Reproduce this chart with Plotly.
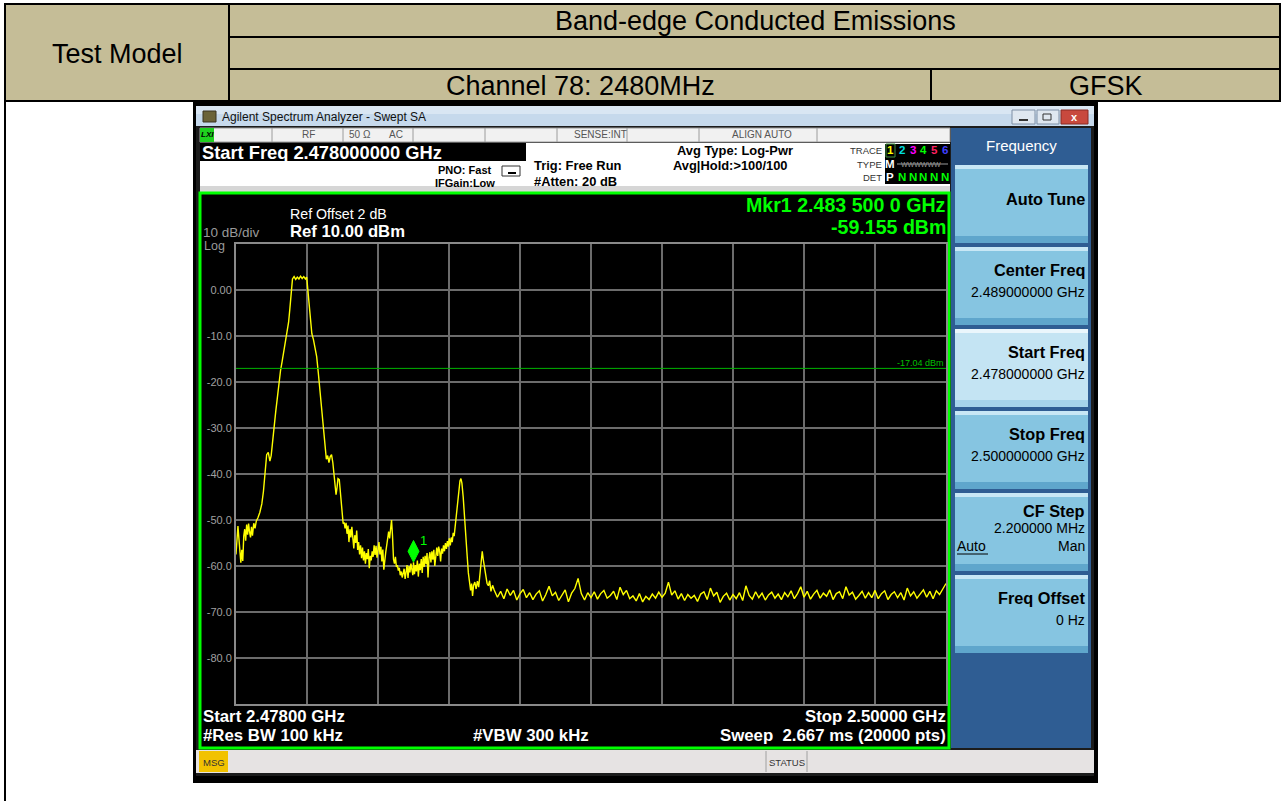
import plotly.graph_objects as go

W, H = 1282, 801
FONT = "Liberation Sans, Arial, sans-serif"

# ---------------- data ----------------
FREQ_START_MHZ = 2478.0
FREQ_STOP_MHZ = 2500.0
GRID_STEP_MHZ = 2.2
Y_TOP_DBM = 10.0
Y_BOTTOM_DBM = -90.0
Y_GRID_VALUES = [10, 0, -10, -20, -30, -40, -50, -60, -70, -80, -90]
Y_GRID_LABELS = ["", "0.00", "-10.0", "-20.0", "-30.0", "-40.0", "-50.0", "-60.0", "-70.0", "-80.0", ""]
LIMIT_DBM = -17.04
MKR_FREQ_MHZ = 2483.5
MKR_LEVEL_DBM = -59.155

# carrier (channel 78) region
CARRIER_FREQ_MHZ = [
    2478.00, 2478.03, 2478.06, 2478.09, 2478.12, 2478.15, 2478.18, 2478.21, 2478.24, 2478.27,
    2478.30, 2478.33, 2478.36, 2478.39, 2478.42, 2478.45, 2478.48, 2478.51, 2478.55, 2478.59,
    2478.63, 2478.68, 2478.74, 2478.80, 2478.85, 2478.90, 2478.95, 2479.00, 2479.05, 2479.09,
    2479.13, 2479.18, 2479.23, 2479.28, 2479.33, 2479.38, 2479.43, 2479.48, 2479.53, 2479.58,
    2479.63, 2479.67, 2479.71, 2479.75, 2479.80, 2479.85, 2479.90, 2479.95, 2480.00, 2480.05,
    2480.10, 2480.15, 2480.19, 2480.22, 2480.26, 2480.30, 2480.35, 2480.40, 2480.45, 2480.50,
    2480.55, 2480.60, 2480.65, 2480.70, 2480.75, 2480.80, 2480.84, 2480.88, 2480.92, 2480.96,
    2481.00, 2481.05, 2481.10, 2481.13, 2481.16, 2481.20, 2481.24, 2481.28, 2481.32]
CARRIER_LEVEL_DBM = [
    -57.5, -55.0, -51.3, -54.0, -57.8, -59.3, -56.5, -58.9, -53.5, -52.0,
    -54.5, -51.0, -53.2, -50.8, -52.6, -53.8, -51.5, -53.4, -50.7, -51.8,
    -50.2, -49.5, -48.3, -46.5, -43.8, -40.0, -35.8, -35.3, -37.2, -36.0,
    -33.0, -30.0, -26.5, -23.5, -20.0, -17.5, -15.5, -13.5, -11.8, -9.5,
    -7.0, -4.0, -1.0, 2.4, 2.9, 2.3, 2.8, 2.4, 3.0, 2.5,
    2.9, 2.4, 2.8, 0.2, -3.5, -6.5, -9.5, -10.8, -12.5, -14.5,
    -18.0, -22.0, -25.5, -29.0, -33.0, -36.8, -36.0, -37.5, -36.2, -35.8,
    -37.5, -40.5, -44.5, -43.0, -41.0, -41.2, -44.0, -47.0, -50.8]

# band-edge region
EDGE_FREQ_MHZ = [
    2481.35, 2481.38, 2481.41, 2481.44, 2481.47, 2481.50, 2481.53, 2481.56, 2481.59, 2481.62,
    2481.65, 2481.68, 2481.71, 2481.74, 2481.77, 2481.80, 2481.83, 2481.86, 2481.89, 2481.92,
    2481.95, 2481.98, 2482.01, 2482.04, 2482.07, 2482.10, 2482.13, 2482.16, 2482.19, 2482.22,
    2482.25, 2482.28, 2482.31, 2482.34, 2482.37, 2482.40, 2482.43, 2482.46, 2482.49, 2482.52,
    2482.55, 2482.58, 2482.61, 2482.64, 2482.67, 2482.70, 2482.73, 2482.76, 2482.79, 2482.82,
    2482.85, 2482.88, 2482.91, 2482.94, 2482.97, 2483.00, 2483.03, 2483.06, 2483.09, 2483.12,
    2483.15, 2483.18, 2483.21, 2483.24, 2483.27, 2483.30, 2483.33, 2483.36, 2483.39, 2483.42,
    2483.45, 2483.48, 2483.50, 2483.53, 2483.56, 2483.59, 2483.62, 2483.65, 2483.68, 2483.71,
    2483.74, 2483.77, 2483.80, 2483.83, 2483.86, 2483.89, 2483.92, 2483.95, 2483.98, 2484.01,
    2484.04, 2484.07, 2484.10, 2484.13, 2484.16, 2484.19, 2484.22, 2484.25, 2484.28, 2484.31,
    2484.34, 2484.37, 2484.40, 2484.43, 2484.46, 2484.49, 2484.52, 2484.55, 2484.58, 2484.61,
    2484.64, 2484.67, 2484.70, 2484.73, 2484.76, 2484.79, 2484.82, 2484.86, 2484.90, 2484.94,
    2484.97, 2485.00, 2485.04, 2485.08, 2485.12, 2485.16, 2485.20, 2485.24, 2485.27, 2485.30,
    2485.33, 2485.36, 2485.40, 2485.44, 2485.48, 2485.52, 2485.56, 2485.60, 2485.63, 2485.66,
    2485.70, 2485.74, 2485.78, 2485.82, 2485.86, 2485.90, 2485.95]
EDGE_LEVEL_DBM = [
    -50.5, -51.8, -50.6, -53.0, -51.2, -54.8, -52.0, -53.8, -51.5, -54.5,
    -56.2, -53.3, -55.0, -52.3, -56.5, -54.8, -57.5, -55.5, -58.3, -56.0,
    -58.8, -56.8, -59.5, -57.2, -58.5, -56.3, -60.5, -57.8, -58.8, -56.8,
    -58.0, -55.5, -57.6, -55.6, -58.2, -56.5, -54.8, -57.5, -55.8, -59.0,
    -56.4, -60.8, -58.0, -57.0, -55.5, -53.8, -52.5, -54.0, -51.2, -50.0,
    -53.5, -58.5, -59.5, -58.0, -60.2, -59.8, -61.0, -60.4, -62.0, -61.2,
    -62.5, -61.5, -60.6, -62.8, -61.0, -59.8, -62.6, -60.0, -61.4, -59.5,
    -60.8, -62.0, -59.2, -61.8, -59.8, -61.2, -58.8, -62.3, -59.5, -60.9,
    -58.5, -61.5, -58.0, -60.2, -57.8, -59.6, -57.2, -62.5, -58.3, -57.0,
    -59.2, -56.8, -58.6, -56.5, -60.0, -57.0, -56.0, -57.8, -55.8, -56.8,
    -59.0, -56.2, -57.3, -55.5, -56.8, -55.0, -56.3, -54.6, -55.8, -54.0,
    -55.5, -53.8, -54.8, -52.8, -53.5, -51.5, -49.5, -46.5, -43.5, -41.5,
    -41.0, -42.0, -45.0, -48.5, -52.5, -57.5, -61.5, -64.0, -65.3, -63.8,
    -66.5, -64.2, -63.5, -65.0, -63.3, -64.6, -62.0, -60.0, -56.8, -58.5,
    -60.0, -61.5, -63.8, -64.3, -63.2, -65.5, -64.2]

# noise floor region (analyzer sweep points, 0.1 MHz apart)
FLOOR_START_MHZ = 2486.0
FLOOR_STEP_MHZ = 0.1
FLOOR_LEVEL_DBM = [
    -65.2, -66.8, -65.5, -67.1, -65.0, -66.4, -65.3, -67.4, -66.0, -65.1,
    -66.9, -65.8, -67.3, -66.1, -65.4, -67.6, -66.2, -64.4, -66.5, -65.7,
    -67.5, -66.3, -65.2, -67.8, -65.9, -64.9, -62.7, -66.0, -67.4, -65.8,
    -66.9, -65.6, -67.2, -66.0, -65.3, -67.0, -66.4, -65.5, -67.3, -64.6,
    -66.2, -65.3, -67.1, -66.5, -67.6, -66.0, -67.8, -66.6, -67.3, -66.1,
    -67.0, -65.7, -66.8, -65.9, -63.5, -66.3, -65.4, -67.2, -66.0, -67.5,
    -66.2, -67.0, -66.4, -67.7, -66.1, -65.6, -67.3, -64.8, -66.5, -65.7,
    -67.9, -66.6, -65.9, -67.4, -66.2, -67.1, -65.8, -67.5, -64.3, -66.4,
    -67.2, -65.6, -66.9, -65.9, -67.4, -66.3, -65.7, -67.0, -66.1, -67.3,
    -65.8, -66.7, -65.4, -67.1, -66.0, -64.5, -66.8, -65.5, -67.2, -66.1,
    -65.3, -67.0, -65.9, -66.6, -65.2, -67.3, -66.0, -65.6, -67.1, -64.5,
    -66.3, -65.7, -67.2, -66.4, -65.5, -67.0, -65.8, -66.9, -65.3, -67.1,
    -66.0, -65.4, -67.3, -66.2, -65.6, -66.9, -65.8, -67.4, -64.8, -66.5,
    -65.6, -67.0, -66.1, -65.2, -66.8, -65.5, -67.1, -65.4, -66.2, -65.0,
    -63.8]

FLOOR_FREQ_MHZ = [round(FLOOR_START_MHZ + i * FLOOR_STEP_MHZ, 3) for i in range(len(FLOOR_LEVEL_DBM))]
TRACE_FREQ = CARRIER_FREQ_MHZ + EDGE_FREQ_MHZ + FLOOR_FREQ_MHZ
TRACE_LEVEL = CARRIER_LEVEL_DBM + EDGE_LEVEL_DBM + FLOOR_LEVEL_DBM

# ---------------- helpers (pixel -> paper) ----------------
shapes = []
anns = []


def rect(x0, y0, x1, y1, fill, line=None, lw=0, layer="below"):
    shapes.append(dict(type="rect", xref="paper", yref="paper",
                       x0=x0 / W, x1=x1 / W, y0=1 - y1 / H, y1=1 - y0 / H,
                       fillcolor=fill, layer=layer,
                       line=dict(color=line if line else "rgba(0,0,0,0)", width=lw)))


def seg(x0, y0, x1, y1, color, w=1, layer="below"):
    shapes.append(dict(type="line", xref="paper", yref="paper",
                       x0=x0 / W, x1=x1 / W, y0=1 - y0 / H, y1=1 - y1 / H,
                       line=dict(color=color, width=w), layer=layer))


def text(x, y, s, size=12, color="#000000", anchor="left", bold=False, family=FONT):
    anns.append(dict(xref="paper", yref="paper", x=x / W, y=1 - y / H,
                     xanchor=anchor, yanchor="middle", showarrow=False,
                     text=("<b>%s</b>" % s) if bold else s,
                     borderpad=0, borderwidth=0,
                     font=dict(family=family, size=size, color=color)))


# ---------------- report table ----------------
TAN = "#c5bd97"
rect(5, 4, 1280, 101, TAN, "#000000", 2)
seg(229, 4, 229, 101, "#000000", 2)
seg(229, 37, 1280, 37, "#000000", 2)
seg(229, 69, 1280, 69, "#000000", 2)
seg(931, 69, 931, 101, "#000000", 2)
seg(5, 101, 5, 801, "#000000", 2)
text(117, 54, "Test Model", 27, anchor="center")
text(755, 21, "Band-edge Conducted Emissions", 27, anchor="center")
text(580, 86, "Channel 78: 2480MHz", 27, anchor="center")
text(1106, 86, "GFSK", 27, anchor="center")

# ---------------- analyzer window ----------------
rect(193, 101, 1098, 783, "#000000")
rect(196, 106, 1094, 776, "#1c1c1c")
# title bar
rect(196, 106, 1094, 126, "#c6d9ec")
rect(196, 106, 1094, 114, "#d9e6f3")
rect(203, 111, 216, 122, "#6b6338", "#3a3520", 1)
text(222, 117, "Agilent Spectrum Analyzer - Swept SA", 12, "#111111")
rect(1012, 110, 1035, 124, "#dfe7f0", "#7f8fa5", 1)
seg(1019, 120, 1028, 120, "#333333", 2)
rect(1037, 110, 1059, 124, "#dfe7f0", "#7f8fa5", 1)
rect(1043, 114, 1051, 120, "rgba(0,0,0,0)", "#333333", 1)
rect(1061, 110, 1088, 124, "#c8493e", "#8a2a22", 1)
text(1074.5, 117, "x", 11, "#ffffff", "center", bold=True)

# status row
rect(200, 128, 950, 142, "#f1f1f1", "#9c9c9c", 1)
rect(200, 128, 214, 142, "#1fd11f")
text(207, 135, "<i>LXI</i>", 8, "#000000", "center", bold=True)
for sx in [272, 343, 413, 485, 557, 627, 699, 817]:
    seg(sx, 128, sx, 142, "#9c9c9c", 1)
text(308, 135, "RF", 10, "#555555", "center")
text(360, 135, "50 Ω", 10, "#555555", "center")
text(396, 135, "AC", 10, "#555555", "center")
text(600, 135, "SENSE:INT", 10, "#555555", "center")
text(762, 135, "ALIGN AUTO", 10, "#555555", "center")

# info area
rect(200, 143, 950, 192, "#ffffff")
rect(200, 186, 950, 192, "#d6d6d6")
rect(200, 143, 526, 161, "#000000")
text(202, 152, "Start Freq 2.478000000 GHz", 18.3, "#ffffff", bold=True)
text(492, 170, "PNO: Fast", 11, "#000000", "right", bold=True)
text(495, 183, "IFGain:Low", 11, "#000000", "right", bold=True)
rect(502, 166, 520, 176, "rgba(0,0,0,0)", "#333333", 1)
seg(508, 173, 516, 173, "#000000", 2)
text(534, 165, "Trig: Free Run", 12.9, "#000000", bold=True)
text(534, 181, "#Atten: 20 dB", 12.9, "#000000", bold=True)
text(735, 150, "Avg Type: Log-Pwr", 12.9, "#000000", "center", bold=True)
text(730, 165, "Avg|Hold:>100/100", 12.9, "#000000", "center", bold=True)
text(882, 150, "TRACE", 9.5, "#333333", "right")
text(882, 164, "TYPE", 9.5, "#333333", "right")
text(882, 177, "DET", 9.5, "#333333", "right")
rect(885, 144, 950, 184, "#000000")
rect(886, 144, 895, 157, "rgba(0,0,0,0)", "#3f8f3f", 1)
for dx, dc, dg in [(890, "#ffff00", "1"), (901.5, "#00e0e0", "2"), (912.5, "#ff00ff", "3"),
                   (923, "#00ff00", "4"), (934, "#ff2060", "5"), (945, "#4040ff", "6")]:
    text(dx, 150, dg, 11.5, dc, "center", bold=True)
text(890, 164, "M", 11.5, "#ffffff", "center", bold=True)
text(921, 164, "WWWWWW", 7, "#9a9a9a", "center")
seg(897, 164, 948, 164, "#9a9a9a", 1)
text(890, 177, "P", 11.5, "#ffffff", "center", bold=True)
for dx in [901.5, 912.5, 923, 934, 945]:
    text(dx, 177, "N", 11.5, "#00ff00", "center", bold=True)

# graticule frame
rect(200, 193, 949, 748, "#000000", "#00ff00", 3)

# plot header texts
text(203, 232, "10 dB/div", 13.5, "#9a9a9a")
text(204, 246, "Log", 12.5, "#9a9a9a")
text(290, 214, "Ref Offset 2 dB", 14.2, "#ffffff")
text(290, 231, "Ref 10.00 dBm", 16.7, "#ffffff", bold=True)
text(946, 204.5, "Mkr1 2.483 500 0 GHz", 19.6, "#00ff00", "right", bold=True)
text(946, 226.5, "-59.155 dBm", 19.6, "#00ff00", "right", bold=True)
text(203, 716, "Start 2.47800 GHz", 16.8, "#ffffff", bold=True)
text(203, 735, "#Res BW 100 kHz", 16.8, "#ffffff", bold=True)
text(473, 735, "#VBW 300 kHz", 16.8, "#ffffff", bold=True)
text(946, 716, "Stop 2.50000 GHz", 16.8, "#ffffff", "right", bold=True)
text(946, 735, "Sweep  2.667 ms (20000 pts)", 16.8, "#ffffff", "right", bold=True)

# status bar
rect(196, 750, 1094, 773, "#e6e3e3")
rect(199, 751, 228, 772, "#f2c200")
text(213.5, 762, "MSG", 9.5, "#333333", "center")
seg(766, 751, 766, 772, "#a0a0a0", 1)
seg(807, 751, 807, 772, "#a0a0a0", 1)
text(786.5, 762, "STATUS", 9.5, "#333333", "center")

# softkey panel
rect(951, 128, 1091, 748, "#2f5d93")
text(1022, 145, "Frequency", 15, "#ffffff", "center")
BUTTONS = [
    (165, 243, "Auto Tune", None, False),
    (247, 325, "Center Freq", "2.489000000 GHz", False),
    (329, 407, "Start Freq", "2.478000000 GHz", True),
    (411, 489, "Stop Freq", "2.500000000 GHz", False),
    (493, 571, "CF Step", "2.200000 MHz", False),
    (575, 653, "Freq Offset", "0 Hz", False),
]
for by0, by1, lab, val, sel in BUTTONS:
    body = "#c4e4f3" if sel else "#86c5e1"
    rect(955, by0, 1088, by1, body)
    rect(955, by0, 1088, by0 + 4, "#eaf6fc" if sel else "#c8e7f5")
    rect(955, by1 - 7, 1088, by1, "#a6d3ea" if sel else "#5fa6cc")
    if val is None:
        text(1085, (by0 + by1) / 2 - 5, lab, 16.3, "#000000", "right", bold=True)
    elif lab == "CF Step":
        text(1085, by0 + 18, lab, 16.3, "#000000", "right", bold=True)
        text(1085, by0 + 35, val, 14, "#000000", "right")
        text(957, by0 + 53, "Auto", 14, "#000000", "left")
        seg(957, by0 + 61, 988, by0 + 61, "#000000", 1)
        text(1085, by0 + 53, "Man", 14, "#000000", "right")
    else:
        text(1085, by0 + 23, lab, 16.3, "#000000", "right", bold=True)
        text(1085, by0 + 45, val, 14, "#000000", "right")

# ---------------- spectrum plot ----------------
fig = go.Figure()
fig.add_trace(go.Scatter(x=TRACE_FREQ, y=TRACE_LEVEL, mode="lines",
                         line=dict(color="#ffff00", width=1.4), hoverinfo="skip",
                         showlegend=False))

# display line (limit)
shapes.append(dict(type="line", xref="x", yref="y", x0=FREQ_START_MHZ, x1=FREQ_STOP_MHZ,
                   y0=LIMIT_DBM, y1=LIMIT_DBM, line=dict(color="#00b400", width=1), layer="above"))
anns.append(dict(xref="paper", yref="y", x=944 / W, y=LIMIT_DBM, xanchor="right", yanchor="bottom",
                 showarrow=False, text="%.2f dBm" % LIMIT_DBM, borderpad=0, borderwidth=0,
                 font=dict(family=FONT, size=9, color="#00c000")))

# marker 1 diamond (above the trace point)
dw = 0.17
dh = 2.35
mc = MKR_LEVEL_DBM + dh
shapes.append(dict(type="path", xref="x", yref="y", layer="above",
                   path="M %f %f L %f %f L %f %f L %f %f Z" % (
                       MKR_FREQ_MHZ, mc + dh, MKR_FREQ_MHZ + dw, mc,
                       MKR_FREQ_MHZ, mc - dh, MKR_FREQ_MHZ - dw, mc),
                   fillcolor="#00ff00", line=dict(color="#00ff00", width=1)))
anns.append(dict(xref="x", yref="y", x=MKR_FREQ_MHZ, y=MKR_LEVEL_DBM, xshift=10, yshift=22,
                 xanchor="center", yanchor="middle", showarrow=False, text="1",
                 borderpad=0, borderwidth=0, font=dict(family=FONT, size=13, color="#00ff00")))

GRID = "#6c6c6c"
fig.update_layout(
    width=W, height=H, autosize=False,
    margin=dict(l=0, r=0, t=0, b=0, pad=0),
    paper_bgcolor="#ffffff", plot_bgcolor="rgba(0,0,0,0)",
    shapes=shapes, annotations=anns, showlegend=False,
    xaxis=dict(domain=[236 / W, 946 / W], range=[FREQ_START_MHZ, FREQ_STOP_MHZ],
               tickmode="linear", tick0=FREQ_START_MHZ, dtick=GRID_STEP_MHZ,
               showticklabels=False, ticks="", showgrid=True, gridcolor=GRID, gridwidth=1.5,
               showline=True, linecolor="#8a8a8a", linewidth=2, mirror=True,
               zeroline=False, fixedrange=True),
    yaxis=dict(domain=[1 - 704 / H, 1 - 244 / H], range=[Y_BOTTOM_DBM, Y_TOP_DBM],
               tickmode="array", tickvals=Y_GRID_VALUES, ticktext=Y_GRID_LABELS,
               tickfont=dict(family=FONT, size=11, color="#a0a0a0"), ticks="",
               showgrid=True, gridcolor=GRID, gridwidth=1.5,
               showline=True, linecolor="#8a8a8a", linewidth=2, mirror=True,
               zeroline=False, fixedrange=True),
)

fig.write_html("out.html", config={"displayModeBar": False},
               post_script="document.body.style.margin='0';document.body.style.overflow='hidden';")
